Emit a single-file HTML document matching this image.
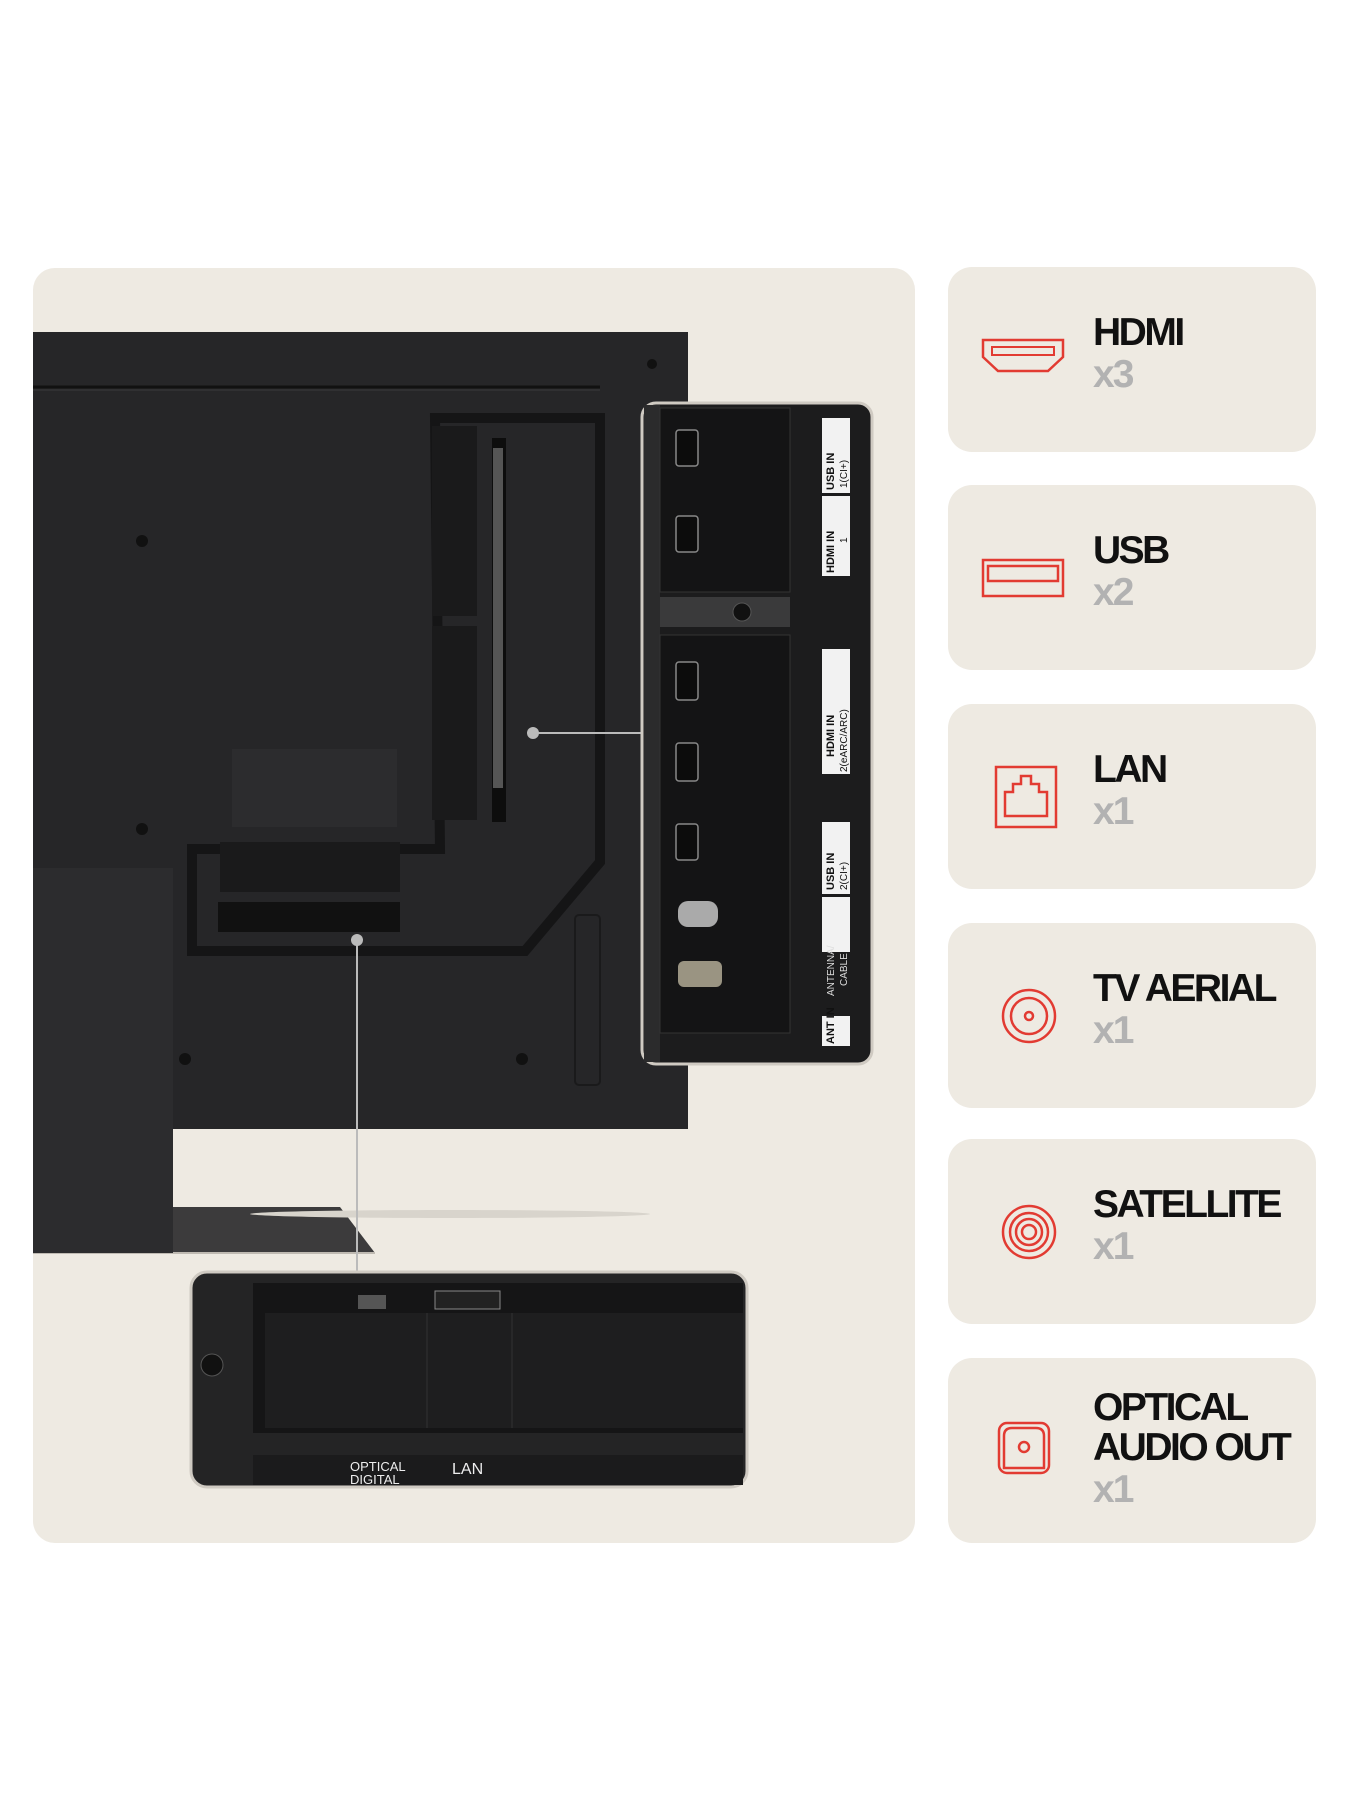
<!DOCTYPE html>
<html><head><meta charset="utf-8"><style>
html,body{margin:0;padding:0;background:#fff;}
body{width:1350px;height:1800px;position:relative;overflow:hidden;font-family:"Liberation Sans",Arial,sans-serif;}
.card{position:absolute;left:948px;width:368px;height:185px;background:#eeeae2;border-radius:24px;}
.t{position:absolute;left:145px;font-weight:bold;font-size:39px;letter-spacing:-2.5px;color:#111;line-height:40px;}
.n{position:absolute;left:145px;font-weight:bold;font-size:39px;letter-spacing:-2px;color:#b2b2b2;line-height:40px;}
.ic{position:absolute;left:30px;}
</style></head><body>
<div style="position:absolute;left:33px;top:268px;width:882px;height:1275px;background:#eeeae2;border-radius:22px;"></div>
<svg style="position:absolute;left:0;top:0" width="1350" height="1800">
 <!-- stand base -->
 <polygon points="33,1207 340,1207 375,1253 33,1253" fill="#3c3b3c"/>
 <line x1="33" y1="1253" x2="375" y2="1253" stroke="#bfbab2" stroke-width="2"/>
 <ellipse cx="450" cy="1214" rx="200" ry="4" fill="#d8d4cc"/>
 <!-- TV back -->
 <rect x="33" y="332" width="655" height="797" fill="#262628"/>
 <line x1="33" y1="387" x2="600" y2="387" stroke="#111" stroke-width="3"/>
 <line x1="33" y1="390" x2="600" y2="390" stroke="#3a3a3c" stroke-width="1"/>
 <circle cx="652" cy="364" r="5" fill="#111"/>
 <circle cx="142" cy="541" r="6" fill="#111"/><circle cx="142" cy="829" r="6" fill="#111"/>
 <circle cx="185" cy="1059" r="6" fill="#111"/><circle cx="522" cy="1059" r="6" fill="#111"/>
 <!-- port frame -->
 <path d="M435,418 L600,418 L600,862 L525,951 L192,951 L192,849 L440,849 Z" fill="none" stroke="#151516" stroke-width="10"/>
 <rect x="432" y="426" width="45" height="190" fill="#1a1a1b"/>
 <rect x="432" y="626" width="45" height="194" fill="#1a1a1b"/>
 <rect x="492" y="438" width="14" height="384" fill="#0d0d0d"/>
 <rect x="493" y="448" width="10" height="340" fill="#ddd" opacity="0.35"/>
 <rect x="232" y="749" width="165" height="78" fill="#2c2c2e"/>
 <rect x="220" y="842" width="180" height="50" fill="#1a1a1b"/>
 <rect x="218" y="902" width="182" height="30" fill="#111"/>
 <rect x="575" y="915" width="25" height="170" rx="4" fill="none" stroke="#1a1a1b" stroke-width="2"/>
 <!-- stand neck -->
 <rect x="33" y="868" width="140" height="385" fill="#2c2c2e"/>
 <!-- connectors -->
 <line x1="533" y1="733" x2="642" y2="733" stroke="#bbb" stroke-width="2"/>
 <circle cx="533" cy="733" r="6" fill="#bbb"/>
 <line x1="357" y1="940" x2="357" y2="1272" stroke="#bbb" stroke-width="2"/>
 <circle cx="357" cy="940" r="6" fill="#bbb"/>
 <!-- right callout -->
 <rect x="642" y="403" width="230" height="661" rx="14" fill="#1c1c1d" stroke="#cfcac2" stroke-width="3"/>
 <rect x="644" y="405" width="16" height="657" fill="#2b2b2c"/>
 <rect x="660" y="408" width="130" height="184" fill="#141415" stroke="#333" stroke-width="1"/>
 <rect x="660" y="597" width="130" height="30" fill="#3a3a3b"/>
 <circle cx="742" cy="612" r="9" fill="#111" stroke="#555"/>
 <rect x="660" y="635" width="130" height="398" fill="#141415" stroke="#333" stroke-width="1"/>
 <g fill="#0c0c0c" stroke="#888" stroke-width="1.5">
  <rect x="676" y="430" width="22" height="36" rx="3"/><rect x="676" y="516" width="22" height="36" rx="3"/>
  <rect x="676" y="662" width="22" height="38" rx="3"/><rect x="676" y="743" width="22" height="38" rx="3"/>
  <rect x="676" y="824" width="22" height="36" rx="3"/>
 </g>
 <rect x="678" y="901" width="40" height="26" rx="10" fill="#aaa"/>
 <rect x="678" y="961" width="44" height="26" rx="6" fill="#9a9482"/>
 <g fill="#f2f2f2">
  <rect x="822" y="418" width="28" height="75"/><rect x="822" y="496" width="28" height="80"/>
  <rect x="822" y="649" width="28" height="125"/><rect x="822" y="822" width="28" height="72"/>
  <rect x="822" y="897" width="28" height="55"/><rect x="822" y="1016" width="28" height="30"/>
 </g>
 <g font-family="Liberation Sans,Arial" font-size="11" font-weight="bold" fill="#111">
  <text transform="translate(834,490) rotate(-90)">USB IN</text>
  <text transform="translate(834,573) rotate(-90)">HDMI IN</text>
  <text transform="translate(834,757) rotate(-90)">HDMI IN</text>
  <text transform="translate(834,890) rotate(-90)">USB IN</text>
  <text transform="translate(834,1044) rotate(-90)">ANT IN</text>
 </g>
 <g font-family="Liberation Sans,Arial" font-size="10" fill="#111">
  <text transform="translate(847,488) rotate(-90)">1(CI+)</text>
  <text transform="translate(847,543) rotate(-90)">1</text>
  <text transform="translate(847,772) rotate(-90)">2(eARC/ARC)</text>
  <text transform="translate(847,890) rotate(-90)">2(CI+)</text>
 </g>
 <g font-family="Liberation Sans,Arial" font-size="10" fill="#ddd">
  <text transform="translate(834,996) rotate(-90)">ANTENNA/</text>
  <text transform="translate(847,986) rotate(-90)">CABLE</text>
 </g>
 <!-- bottom callout -->
 <rect x="191" y="1272" width="556" height="215" rx="16" fill="#242425" stroke="#cfcac2" stroke-width="3"/>
 <rect x="253" y="1283" width="490" height="150" fill="#151516"/>
 <rect x="265" y="1313" width="478" height="115" fill="#1e1e1f"/>
 <line x1="427" y1="1313" x2="427" y2="1428" stroke="#333"/><line x1="512" y1="1313" x2="512" y2="1428" stroke="#333"/>
 <rect x="358" y="1295" width="28" height="14" fill="#555"/>
 <rect x="435" y="1291" width="65" height="18" fill="#222" stroke="#888"/>
 <circle cx="212" cy="1365" r="11" fill="#111" stroke="#555"/>
 <rect x="253" y="1455" width="490" height="30" fill="#1b1b1c"/>
 <text x="350" y="1471" font-family="Liberation Sans,Arial" font-size="13" fill="#eee">OPTICAL</text>
 <text x="350" y="1484" font-family="Liberation Sans,Arial" font-size="13" fill="#eee">DIGITAL</text>
 <text x="452" y="1474" font-family="Liberation Sans,Arial" font-size="16" fill="#eee">LAN</text>
</svg>

<div class="card" style="top:267px">
 <svg class="ic" style="top:70px" width="90" height="40"><path d="M5,3 H85 V20 L70,34 H20 L5,20 Z" fill="none" stroke="#e23b32" stroke-width="2.5"/><rect x="14" y="10" width="62" height="8" fill="none" stroke="#e23b32" stroke-width="2"/></svg>
 <div class="t" style="top:46px">HDMI</div><div class="n" style="top:88px">x3</div>
</div>
<div class="card" style="top:485px">
 <svg class="ic" style="top:72px" width="90" height="44"><rect x="5" y="3" width="80" height="36" fill="none" stroke="#e23b32" stroke-width="2.5"/><rect x="10" y="9" width="70" height="15" fill="none" stroke="#e23b32" stroke-width="2.5"/></svg>
 <div class="t" style="top:46px">USB</div><div class="n" style="top:88px">x2</div>
</div>
<div class="card" style="top:704px">
 <svg class="ic" style="top:60px;left:45px" width="70" height="70"><rect x="3" y="3" width="60" height="60" fill="none" stroke="#e23b32" stroke-width="2.5"/><path d="M12,52 V28 H20 V20 H28 V12 H38 V20 H46 V28 H54 V52 Z" fill="none" stroke="#e23b32" stroke-width="2.5"/></svg>
 <div class="t" style="top:46px">LAN</div><div class="n" style="top:88px">x1</div>
</div>
<div class="card" style="top:923px">
 <svg class="ic" style="top:63px;left:52px" width="60" height="60"><g fill="none" stroke="#e23b32" stroke-width="2.5"><circle cx="29" cy="30" r="26"/><circle cx="29" cy="30" r="18"/><circle cx="29" cy="30" r="4"/></g></svg>
 <div class="t" style="top:46px">TV AERIAL</div><div class="n" style="top:88px">x1</div>
</div>
<div class="card" style="top:1139px">
 <svg class="ic" style="top:63px;left:52px" width="60" height="60"><g fill="none" stroke="#e23b32" stroke-width="2.5"><circle cx="29" cy="30" r="26"/><circle cx="29" cy="30" r="19"/><circle cx="29" cy="30" r="13"/><circle cx="29" cy="30" r="7"/></g></svg>
 <div class="t" style="top:46px">SATELLITE</div><div class="n" style="top:88px">x1</div>
</div>
<div class="card" style="top:1358px">
 <svg class="ic" style="top:62px;left:48px" width="60" height="60"><g fill="none" stroke="#e23b32" stroke-width="2.5"><rect x="3" y="3" width="50" height="50" rx="8"/><path d="M8,48 V16 Q8,8 16,8 H40 Q48,8 48,16 V48 Z"/><circle cx="28" cy="27" r="5"/></g></svg>
 <div class="t" style="top:30px">OPTICAL<br>AUDIO OUT</div><div class="n" style="top:112px">x1</div>
</div>
</body></html>
